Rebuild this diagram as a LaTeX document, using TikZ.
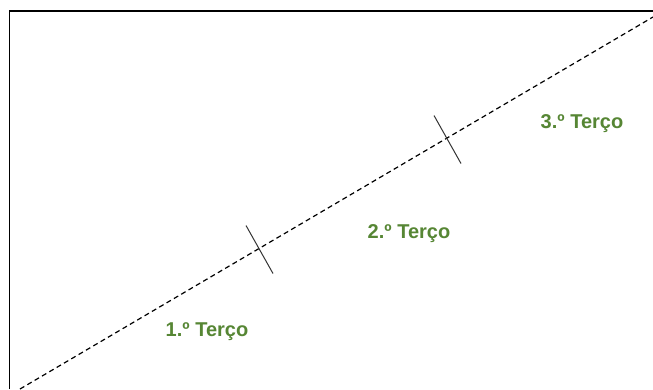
\documentclass[tikz,border=0pt]{standalone}
\usepackage{fontspec}
\setmainfont{Liberation Sans}
\usetikzlibrary{calc}
\definecolor{lblgreen}{RGB}{86,134,52}
\begin{document}
\begin{tikzpicture}[x=1pt,y=-1pt,
  lbl/.style={text=lblgreen,font=\bfseries\fontsize{20}{22}\selectfont,inner sep=0pt},
  tick/.style={line width=1pt,draw=black!80}]
\useasboundingbox (0,0) rectangle (653,389);
\fill[white] (0,0) rectangle (653,389);
\draw[line width=1.2pt] (9.5,389) -- (9.5,11) -- (653,11);
\coordinate (s) at (20,389);
\coordinate (e) at (653,17);
\draw[line width=1.2pt,dash pattern=on 5pt off 3.5pt] (s) -- (e);
\coordinate (c1) at (259,248.5);
\coordinate (c2) at (447,138.5);
\draw[tick] ($(c1)+(-13,-23)$) -- ($(c1)+(14,25)$);
\draw[tick] ($(c2)+(-13,-23)$) -- ($(c2)+(14,25)$);
\node[lbl] (t1) at (207,332) {1.º Terço};
\node[lbl] (t2) at (409,234) {2.º Terço};
\node[lbl] (t3) at (582,124) {3.º Terço};
\end{tikzpicture}
\end{document}
